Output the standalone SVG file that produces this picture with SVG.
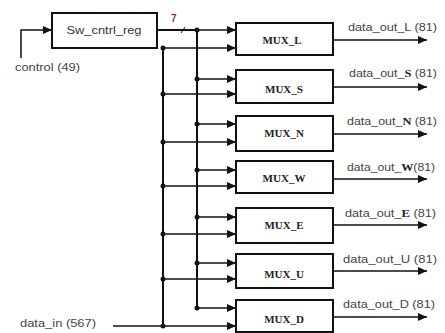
<svg xmlns="http://www.w3.org/2000/svg" width="445" height="333" viewBox="0 0 445 333">
<defs>
<marker id="ah" markerUnits="userSpaceOnUse" markerWidth="10" markerHeight="8" refX="9" refY="4" orient="auto">
<path d="M0,0 L9,4 L0,8 Z" fill="#111"/>
</marker>
<style>
.box{fill:#fff;stroke:#111;stroke-width:2}
.bus{stroke:#111;stroke-width:2;fill:none}
.arr{stroke:#111;stroke-width:1.5;fill:none;marker-end:url(#ah)}
.dot{fill:#111}
.mux{font-family:"Liberation Serif",serif;font-weight:bold;font-size:11px;fill:#222;text-anchor:middle}
.lbl{font-family:"Liberation Sans",Arial,sans-serif;font-size:10.5px;fill:#444}
.b{font-family:"Liberation Serif",serif;font-weight:bold;fill:#222}
</style>
</defs>
<rect width="445" height="333" fill="#fff"/>

<g id="connectors">
<!-- control input -->
<path class="arr" d="M21,58 V30 H52"/>
<!-- reg output to control bus -->
<path class="bus" d="M157,30 H197"/>
<path d="M181,33 L185,27" stroke="#111" stroke-width="1"/>
<!-- control bus -->
<path class="bus" d="M197,30 V308"/>
<!-- data bus -->
<path class="bus" d="M163,48 V326"/>
<!-- data_in -->
<path class="arr" d="M113,326 H236"/>
<!-- control branches -->
<path class="arr" d="M197,30 H236"/>
<path class="arr" d="M197,79 H236"/>
<path class="arr" d="M197,124 H236"/>
<path class="arr" d="M197,170 H236"/>
<path class="arr" d="M197,217 H236"/>
<path class="arr" d="M197,263 H236"/>
<path class="arr" d="M197,308 H236"/>
<!-- data branches -->
<path class="arr" d="M163,48 H236"/>
<path class="arr" d="M163,94 H236"/>
<path class="arr" d="M163,142 H236"/>
<path class="arr" d="M163,186 H236"/>
<path class="arr" d="M163,234 H236"/>
<path class="arr" d="M163,279 H236"/>
<!-- outputs -->
<path class="arr" d="M333,40 H427"/>
<path class="arr" d="M333,87 H427"/>
<path class="arr" d="M333,134 H427"/>
<path class="arr" d="M333,179 H427"/>
<path class="arr" d="M333,225 H427"/>
<path class="arr" d="M333,271 H427"/>
<path class="arr" d="M333,317 H427"/>
<!-- junction dots -->
<circle class="dot" cx="197" cy="30" r="2.5"/>
<circle class="dot" cx="197" cy="79" r="2.5"/>
<circle class="dot" cx="197" cy="124" r="2.5"/>
<circle class="dot" cx="197" cy="170" r="2.5"/>
<circle class="dot" cx="197" cy="217" r="2.5"/>
<circle class="dot" cx="197" cy="263" r="2.5"/>
<circle class="dot" cx="197" cy="308" r="2.5"/>
<circle class="dot" cx="163" cy="48" r="2.5"/>
<circle class="dot" cx="163" cy="94" r="2.5"/>
<circle class="dot" cx="163" cy="142" r="2.5"/>
<circle class="dot" cx="163" cy="186" r="2.5"/>
<circle class="dot" cx="163" cy="234" r="2.5"/>
<circle class="dot" cx="163" cy="279" r="2.5"/>
<circle class="dot" cx="163" cy="326" r="2.5"/>
<text x="171" y="22" font-family="Liberation Sans,Arial,sans-serif" font-size="10" font-weight="bold" fill="#8a3a2a">7</text>
<text class="lbl" x="15" y="71" textLength="65" lengthAdjust="spacingAndGlyphs">control (49)</text>
<text class="lbl" x="20" y="327" textLength="76" lengthAdjust="spacingAndGlyphs">data_in (567)</text>
<text class="lbl" x="348" y="31" textLength="89" lengthAdjust="spacingAndGlyphs">data_out_L (81)</text>
<text class="lbl" x="349" y="77" textLength="88" lengthAdjust="spacingAndGlyphs">data_out_<tspan class="b">S</tspan> (81)</text>
<text class="lbl" x="347" y="125" textLength="90" lengthAdjust="spacingAndGlyphs">data_out_<tspan class="b">N</tspan> (81)</text>
<text class="lbl" x="347" y="171" textLength="88" lengthAdjust="spacingAndGlyphs">data_out_<tspan class="b">W</tspan>(81)</text>
<text class="lbl" x="345" y="217" textLength="91" lengthAdjust="spacingAndGlyphs">data_out_<tspan class="b">E</tspan> (81)</text>
<text class="lbl" x="343" y="263" textLength="94" lengthAdjust="spacingAndGlyphs">data_out_U (81)</text>
<text class="lbl" x="343" y="308" textLength="92" lengthAdjust="spacingAndGlyphs">data_out_D (81)</text>
</g>

<g id="sw_cntrl_reg">
<rect class="box" x="52" y="13" width="105" height="35"/>
<text x="104" y="34" font-family="Liberation Sans,Arial,sans-serif" font-size="11" fill="#333" text-anchor="middle" textLength="75" lengthAdjust="spacingAndGlyphs">Sw_cntrl_reg</text>
</g>
<g id="mux_l"><rect class="box" x="236" y="23" width="97" height="32"/><text class="mux" x="282" y="44">MUX_L</text></g>
<g id="mux_s"><rect class="box" x="236" y="70" width="97" height="33"/><text class="mux" x="284" y="93">MUX_S</text></g>
<g id="mux_n"><rect class="box" x="236" y="116" width="97" height="35"/><text class="mux" x="284" y="137">MUX_N</text></g>
<g id="mux_w"><rect class="box" x="236" y="161" width="97" height="32"/><text class="mux" x="284" y="182">MUX_W</text></g>
<g id="mux_e"><rect class="box" x="236" y="208" width="97" height="35"/><text class="mux" x="284" y="229">MUX_E</text></g>
<g id="mux_u"><rect class="box" x="236" y="254" width="97" height="34"/><text class="mux" x="284" y="278">MUX_U</text></g>
<g id="mux_d"><rect class="box" x="236" y="300" width="97" height="32"/><text class="mux" x="284" y="323">MUX_D</text></g>
</svg>
